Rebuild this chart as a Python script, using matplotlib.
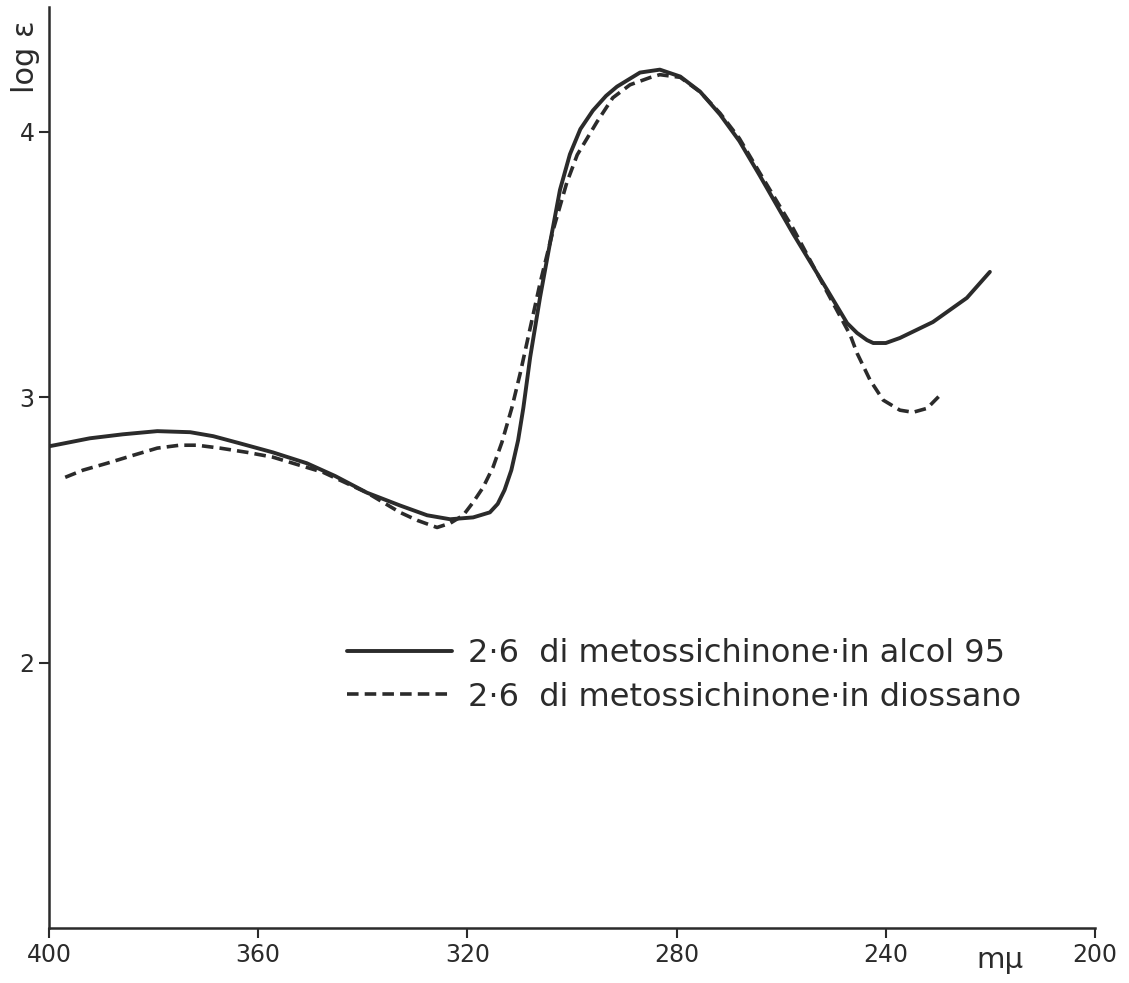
import matplotlib
matplotlib.use("Agg")
import matplotlib.pyplot as plt

# curves: wavelength (m\u03bc) and log epsilon
alcol_nm = [400.0, 398.9, 392.2, 385.9, 379.3, 373.0, 368.6, 363.5, 357.2, 350.7,
            345.3, 339.2, 332.9, 327.7, 323.3, 318.9, 315.7, 314.2, 312.9, 311.6,
            310.3, 309.3, 308.0, 306.1, 304.2, 302.3, 300.4, 298.4, 296.0, 293.5,
            291.4, 287.0, 283.2, 279.3, 275.5, 271.7, 268.0, 264.1, 257.7, 251.2,
            247.4, 245.5, 243.6, 242.4, 240.0, 237.3, 231.0, 224.5, 220.1]
alcol_log = [2.815, 2.819, 2.845, 2.860, 2.872, 2.868, 2.853, 2.826, 2.792, 2.751,
             2.703, 2.640, 2.592, 2.555, 2.540, 2.547, 2.566, 2.598, 2.650, 2.725,
             2.838, 2.960, 3.150, 3.377, 3.581, 3.781, 3.915, 4.010, 4.080, 4.135,
             4.170, 4.223, 4.234, 4.208, 4.151, 4.065, 3.965, 3.835, 3.615, 3.404,
             3.279, 3.242, 3.215, 3.204, 3.204, 3.223, 3.283, 3.374, 3.472]

diox_nm = [396.9, 393.5, 388.9, 383.9, 379.3, 375.0, 371.7, 367.3, 362.1, 357.2,
           352.0, 347.6, 339.2, 332.9, 329.6, 325.8, 323.3, 320.8, 318.9, 317.0,
           315.1, 313.4, 311.5, 309.9, 308.0, 306.1, 303.6, 301.0, 299.0, 295.2,
           292.2, 288.9, 285.1, 283.2, 279.3, 275.5, 271.7, 268.0, 264.1, 257.7,
           251.2, 246.8, 245.5, 243.0, 240.5, 237.3, 234.8, 232.1, 229.6]
diox_log = [2.698, 2.725, 2.751, 2.781, 2.808, 2.819, 2.819, 2.808, 2.792, 2.774,
            2.743, 2.717, 2.640, 2.566, 2.536, 2.509, 2.525, 2.555, 2.604, 2.660,
            2.736, 2.830, 2.960, 3.090, 3.260, 3.430, 3.630, 3.808, 3.913, 4.038,
            4.128, 4.177, 4.204, 4.215, 4.205, 4.150, 4.070, 3.975, 3.845, 3.635,
            3.395, 3.234, 3.166, 3.064, 2.989, 2.951, 2.943, 2.958, 3.008]

xticks = [400, 360, 320, 280, 240, 200]
yticks = [2, 3, 4]

plt.rcParams['font.family'] = 'DejaVu Sans'
ink = '#2b2b2b'

fig = plt.figure(figsize=(11.29, 9.83), dpi=100)
ax = fig.add_axes([49/1129, 55/983, (1095-49)/1129, (928-7)/983])

ax.plot(alcol_nm, alcol_log, color=ink, lw=2.8, solid_capstyle='round',
        solid_joinstyle='round', label='2·6  di metossichinone·in alcol 95')
ax.plot(diox_nm, diox_log, color=ink, lw=2.6, dashes=(3.2, 1.7),
        label='2·6  di metossichinone·in diossano')

ax.set_xlim(400, 200)
ax.set_ylim(1.0, 4.47)
ax.set_xticks(xticks)
ax.set_yticks(yticks)
ax.tick_params(labelsize=17, colors=ink, width=1.5, length=7, direction='out')
for s in ['top', 'right']:
    ax.spines[s].set_visible(False)
for s in ['left', 'bottom']:
    ax.spines[s].set_linewidth(1.8)
    ax.spines[s].set_color(ink)

fig.text(25/1129, 1 - 57/983, 'log ε', rotation=90, fontsize=22,
         color=ink, ha='center', va='center')
fig.text(1000/1129, 1 - 960/983, 'mμ', fontsize=21, color=ink,
         ha='center', va='center')

leg = ax.legend(loc='upper left', bbox_to_anchor=(285/1046, 1 - 618/921),
                frameon=False, fontsize=23, handlelength=3.3, labelspacing=0.4,
                handletextpad=0.5, borderaxespad=0)
for t in leg.get_texts():
    t.set_color(ink)

fig.savefig('out.png', dpi=100)
